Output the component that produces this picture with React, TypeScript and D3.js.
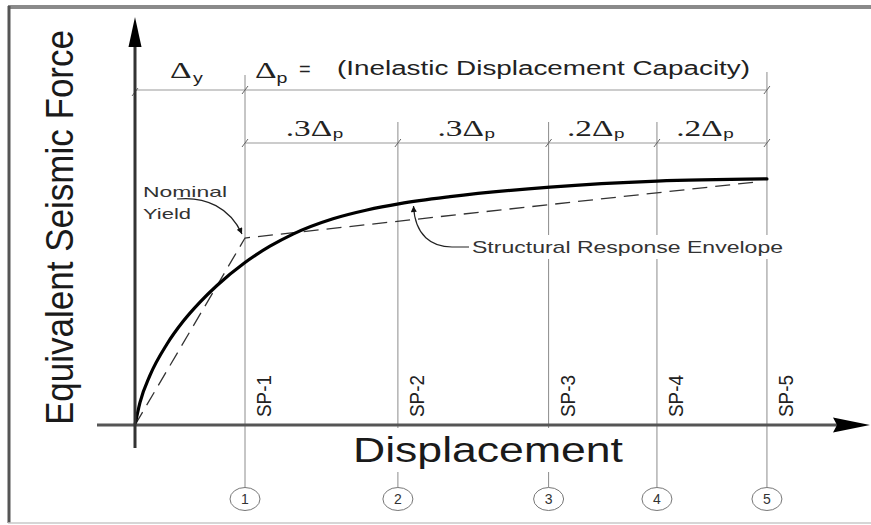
import React from 'react';
import * as d3 from 'd3';

const W = 871;
const H = 525;

// Displacement measured in units of the yield displacement (Δy = 1); force in units of yield force
const spLabels = ['SP-1', 'SP-2', 'SP-3', 'SP-4', 'SP-5'];
const spDisp = [1.0, 2.39, 3.76, 4.745, 5.745];
const circleLabels = ['1', '2', '3', '4', '5'];
const segCoeffs = ['.3', '.3', '.2', '.2'];

const envelopeDisp = [0, 0.045, 0.136, 0.291, 0.436, 0.591, 0.745, 0.991, 1.227, 1.436, 1.8, 2.109, 2.409, 2.864, 3.773, 4.745, 5.745];
const envelopeForce = [0, 0.12, 0.265, 0.433, 0.553, 0.657, 0.746, 0.865, 0.956, 1.021, 1.103, 1.15, 1.184, 1.221, 1.272, 1.304, 1.316];

const bilinearDisp = [0, 1, 5.65];
const bilinearForce = [0, 1, 1.3];

const SANS = "'Liberation Sans', Arial, Helvetica, sans-serif";
const SERIF = "'Liberation Serif', 'Times New Roman', serif";

export default function App() {
  const x = d3.scaleLinear().domain([0, 1]).range([135, 245]);
  const y = d3.scaleLinear().domain([0, 1]).range([425, 238]);

  const envPts: [number, number][] = envelopeDisp.map((d, i) => [d, envelopeForce[i]]);
  const biPts: [number, number][] = bilinearDisp.map((d, i) => [d, bilinearForce[i]]);
  const envPath =
    d3
      .line<[number, number]>()
      .x((d) => x(d[0]))
      .y((d) => y(d[1]))
      .curve(d3.curveMonotoneX)(envPts) || '';
  const biPath =
    d3
      .line<[number, number]>()
      .x((d) => x(d[0]))
      .y((d) => y(d[1]))(biPts) || '';

  const x0 = x(0);
  const yAxisY = y(0);
  const spX = spDisp.map((d) => x(d));
  const row1Y = 90;
  const row2Y = 143;
  const circleY = 499;

  const tick = (cx: number, cy: number, k: string) => (
    <line key={k} x1={cx - 3} y1={cy + 4} x2={cx + 3} y2={cy - 4} stroke="#666" strokeWidth={1} />
  );

  const spTop = [75, 122, 122, 122, 72];
  const segStarts = [spX[0], spX[1], spX[2], spX[3]];

  return (
    <svg
      width={W}
      height={H}
      viewBox={`0 0 ${W} ${H}`}
      style={{ position: 'absolute', left: 0, top: 0, display: 'block', background: '#fff' }}
    >
      <defs>
        <marker id="arr" viewBox="0 0 10 10" refX={10} refY={5} markerWidth={12} markerHeight={6} markerUnits="userSpaceOnUse" orient="auto">
          <path d="M0,0 L10,5 L0,10 z" fill="#111" />
        </marker>
      </defs>

      {/* frame */}
      <line x1={8} y1={7} x2={871} y2={7} stroke="#8a8a8a" strokeWidth={4} />
      <line x1={9} y1={6} x2={9} y2={523} stroke="#555" strokeWidth={3} />
      <line x1={8} y1={523} x2={871} y2={523} stroke="#c8c8c8" strokeWidth={1.5} />

      {/* vertical station lines */}
      {spX.map((sx, i) => (
        <line key={'v' + i} x1={sx} y1={spTop[i]} x2={sx} y2={circleY - 11.5} stroke="#8c8c8c" strokeWidth={1} />
      ))}

      {/* dimension lines */}
      <line x1={x0} y1={row1Y} x2={spX[4]} y2={row1Y} stroke="#999" strokeWidth={1} />
      <line x1={spX[0]} y1={row2Y} x2={spX[4]} y2={row2Y} stroke="#999" strokeWidth={1} />
      {tick(x0, row1Y + 2, 't0')}
      {tick(spX[0], row1Y, 't1')}
      {tick(spX[4], row1Y, 't2')}
      {spX.map((sx, i) => tick(sx, row2Y, 'r2' + i))}

      {/* row 1 labels */}
      <text transform="translate(170,78) scale(1.4,1)" fontFamily={SERIF} fontSize={24} fill="#222">
        Δ
        <tspan fontFamily={SANS} fontSize={14} dy={5} dx={1}>y</tspan>
      </text>
      <text transform="translate(255,78) scale(1.4,1)" fontFamily={SERIF} fontSize={24} fill="#222">
        Δ
        <tspan fontFamily={SANS} fontSize={14} dy={5} dx={0}>p</tspan>
      </text>
      <text x={299} y={76} fontFamily={SANS} fontSize={20} fill="#222">=</text>
      <text x={337} y={75} fontFamily={SANS} fontSize={20} fill="#222" textLength={413} lengthAdjust="spacingAndGlyphs">
        (Inelastic Displacement Capacity)
      </text>

      {/* row 2 labels */}
      {segCoeffs.map((c, i) => {
        const mid = (segStarts[i] + spX[i + 1]) / 2 - 7;
        return (
          <text
            key={'s' + i}
            transform={`translate(${mid},136) scale(1.45,1)`}
            textAnchor="middle"
            fontFamily={SERIF}
            fontSize={23}
            fill="#222"
          >
            {c}Δ
            <tspan fontFamily={SANS} fontSize={13} dy={2} dx={0.5}>p</tspan>
          </text>
        );
      })}

      {/* background masks for labels crossing lines */}
      <rect x={466} y={235} width={322} height={24} fill="#fff" />
      <rect x={348} y={428} width={280} height={44} fill="#fff" />

      {/* bilinear idealization (dashed) */}
      <path d={biPath} fill="none" stroke="#333" strokeWidth={1.3} strokeDasharray="15 8" />

      {/* structural response envelope */}
      <path d={envPath} fill="none" stroke="#000" strokeWidth={3.2} strokeLinecap="round" />

      {/* Nominal yield annotation */}
      <text x={143} y={197} fontFamily={SANS} fontSize={15} fill="#333" textLength={84} lengthAdjust="spacingAndGlyphs">Nominal</text>
      <text x={143} y={219} fontFamily={SANS} fontSize={15} fill="#333" textLength={48} lengthAdjust="spacingAndGlyphs">Yield</text>
      <path d="M177,199 C206,196 230,208 242,234" fill="none" stroke="#222" strokeWidth={1.2} markerEnd="url(#arr)" />

      {/* Structural Response Envelope annotation */}
      <text x={472} y={253} fontFamily={SANS} fontSize={17} fill="#333" textLength={311} lengthAdjust="spacingAndGlyphs">
        Structural Response Envelope
      </text>
      <path d="M469,247 L452,247 C432,247 415,236 413.5,206" fill="none" stroke="#222" strokeWidth={1.2} markerEnd="url(#arr)" />

      {/* axes */}
      <line x1={97} y1={yAxisY} x2={840} y2={yAxisY} stroke="#555" strokeWidth={3} />
      <path d={`M870,${yAxisY} L833,${yAxisY - 7.5} L837,${yAxisY} L833,${yAxisY + 7.5} Z`} fill="#000" />
      <line x1={x0} y1={448} x2={x0} y2={40} stroke="#333" strokeWidth={3} />
      <path d={`M${x0},17 L${x0 - 6.5},47 L${x0 + 6.5},47 Z`} fill="#000" />

      {/* SP labels */}
      {spX.map((sx, i) => (
        <text
          key={'sp' + i}
          transform={`translate(${sx + 26},417) scale(1.15,1) rotate(-90)`}
          fontFamily={SANS}
          fontSize={18}
          fill="#222"
          textLength={42}
          lengthAdjust="spacingAndGlyphs"
        >
          {spLabels[i]}
        </text>
      ))}

      {/* circled station numbers */}
      {spX.map((sx, i) => (
        <g key={'c' + i}>
          <ellipse cx={sx} cy={circleY} rx={15} ry={11.5} fill="#fff" stroke="#777" strokeWidth={1} />
          <text x={sx} y={circleY + 5} textAnchor="middle" fontFamily={SANS} fontSize={14} fill="#333">
            {circleLabels[i]}
          </text>
        </g>
      ))}

      {/* axis titles */}
      <text x={353} y={462} fontFamily={SANS} fontSize={35} fill="#1a1a1a" textLength={270} lengthAdjust="spacingAndGlyphs">
        Displacement
      </text>
      <text
        transform={`translate(73,425) scale(1.12,1) rotate(-90)`}
        fontFamily={SANS}
        fontSize={35}
        fill="#1a1a1a"
        textLength={395}
        lengthAdjust="spacingAndGlyphs"
      >
        Equivalent Seismic Force
      </text>
    </svg>
  );
}
